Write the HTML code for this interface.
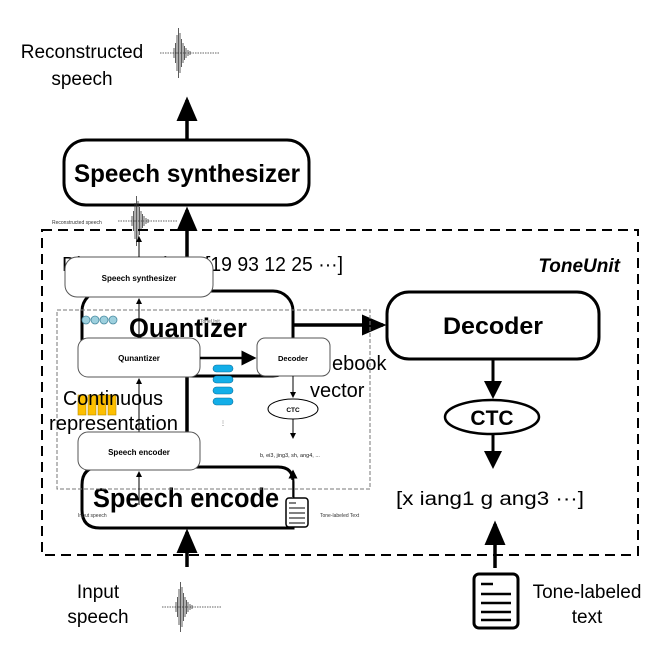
<!DOCTYPE html>
<html><head><meta charset="utf-8"><style>
html,body{margin:0;padding:0;background:#fff;}
svg{display:block;font-family:"Liberation Sans",sans-serif;}
</style></head><body>
<svg width="664" height="651" viewBox="0 0 664 651" xmlns="http://www.w3.org/2000/svg">
<defs>
<marker id="ah" markerWidth="6" markerHeight="6" refX="5" refY="3" orient="auto" markerUnits="strokeWidth"><path d="M0,0 L6,3 L0,6z" fill="#000"/></marker>
<marker id="ahs" markerWidth="7" markerHeight="7" refX="6" refY="3.5" orient="auto" markerUnits="strokeWidth"><path d="M0,0.5 L7,3.5 L0,6.5z" fill="#000"/></marker>
<g id="wave" stroke="#333" stroke-width="0.8">
<line x1="0" y1="0" x2="60" y2="0" stroke-dasharray="1.5,1"/>
<line x1="14" y1="-5" x2="14" y2="5"/><line x1="15.5" y1="-10" x2="15.5" y2="10"/><line x1="17" y1="-18" x2="17" y2="18"/><line x1="18.5" y1="-25" x2="18.5" y2="25"/><line x1="20" y1="-20" x2="20" y2="20"/><line x1="21.5" y1="-14" x2="21.5" y2="14"/><line x1="23" y1="-10" x2="23" y2="10"/><line x1="24.5" y1="-7" x2="24.5" y2="7"/><line x1="26" y1="-5" x2="26" y2="5"/><line x1="28" y1="-3" x2="28" y2="3"/><line x1="30" y1="-2" x2="30" y2="2"/>
</g>
</defs>

<text x="82" y="58" font-size="19" text-anchor="middle">Reconstructed</text>
<text x="82" y="85" font-size="19" text-anchor="middle">speech</text>
<use href="#wave" x="160" y="53"/>
<line x1="187" y1="140" x2="187" y2="100" stroke="#000" stroke-width="3.5" marker-end="url(#ahs)"/>
<rect x="64" y="140" width="245" height="65" rx="22" fill="#fff" stroke="#000" stroke-width="3"/>
<text x="187" y="182" font-size="25" font-weight="bold" text-anchor="middle" textLength="226" lengthAdjust="spacingAndGlyphs">Speech synthesizer</text>

<text x="52" y="224" font-size="5" fill="#333">Reconstructed speech</text>
<use href="#wave" x="118" y="221"/>

<rect x="42" y="230" width="596" height="325" fill="none" stroke="#000" stroke-width="2" stroke-dasharray="10,6"/>

<text x="62" y="271" font-size="20">Discrete units</text>
<text x="205" y="271" font-size="20" textLength="138" lengthAdjust="spacingAndGlyphs">[19 93 12 25 ···]</text>
<text x="620" y="272" font-size="19" font-weight="bold" font-style="italic" text-anchor="end">ToneUnit</text>
<line x1="187" y1="290" x2="187" y2="210" stroke="#000" stroke-width="3.5" marker-end="url(#ahs)"/>

<rect x="82" y="291" width="211" height="85" rx="20" fill="#fff" stroke="#000" stroke-width="3"/>
<text x="188" y="337" font-size="27" font-weight="bold" text-anchor="middle" textLength="118" lengthAdjust="spacingAndGlyphs">Quantizer</text>
<line x1="293" y1="325" x2="383" y2="325" stroke="#000" stroke-width="3.5" marker-end="url(#ahs)"/>

<rect x="387" y="292" width="212" height="67" rx="22" fill="#fff" stroke="#000" stroke-width="3"/>
<text x="493" y="334" font-size="24" font-weight="bold" text-anchor="middle" textLength="100" lengthAdjust="spacingAndGlyphs">Decoder</text>
<line x1="493" y1="359" x2="493" y2="396" stroke="#000" stroke-width="3" marker-end="url(#ah)"/>
<ellipse cx="492" cy="417" rx="47" ry="17" fill="#fff" stroke="#000" stroke-width="2.5"/>
<text x="492" y="425" font-size="21" font-weight="bold" text-anchor="middle">CTC</text>
<line x1="493" y1="434" x2="493" y2="466" stroke="#000" stroke-width="3" marker-end="url(#ah)"/>
<text x="396" y="505" font-size="19" textLength="188" lengthAdjust="spacingAndGlyphs">[x  iang1 g  ang3 ···]</text>

<text x="332" y="370" font-size="20">ebook</text>
<text x="310" y="397" font-size="20">vector</text>

<line x1="187" y1="376" x2="187" y2="470" stroke="#000" stroke-width="3.5"/>

<path d="M200,467 L278,467 Q293,467 293,482 L293,528 L100,528 Q82,528 82,510 L82,485 Q82,467 100,467 Z" fill="#fff" stroke="#000" stroke-width="3"/>
<text x="93" y="507" font-size="27" font-weight="bold" textLength="196" lengthAdjust="spacingAndGlyphs">Speech encoder</text>
<rect x="279" y="480" width="14" height="46" fill="#fff"/>
<line x1="187" y1="567" x2="187" y2="532" stroke="#000" stroke-width="3.5" marker-end="url(#ahs)"/>

<rect x="57" y="310" width="313" height="179" fill="none" stroke="#777" stroke-width="1" stroke-dasharray="4,2"/>
<text x="200" y="323" font-size="5" fill="#555">ToneUnit</text>
<rect x="65" y="257" width="148" height="40" rx="12" fill="#fff" stroke="#555" stroke-width="1"/>
<text x="139" y="281" font-size="8" font-weight="bold" text-anchor="middle">Speech synthesizer</text>
<line x1="139" y1="257" x2="139" y2="237" stroke="#000" stroke-width="1" marker-end="url(#ah)"/>
<line x1="139" y1="338" x2="139" y2="299" stroke="#000" stroke-width="1" marker-end="url(#ah)"/>
<g fill="#9dd0de" stroke="#4a8aa0" stroke-width="0.8"><circle cx="86" cy="320" r="4"/><circle cx="95" cy="320" r="4"/><circle cx="104" cy="320" r="4"/><circle cx="113" cy="320" r="4"/></g>
<rect x="78" y="338" width="122" height="39" rx="10" fill="#fff" stroke="#555" stroke-width="1"/>
<text x="139" y="361" font-size="8" font-weight="bold" text-anchor="middle">Qunantizer</text>
<line x1="200" y1="358" x2="254" y2="358" stroke="#000" stroke-width="2.5" marker-end="url(#ah)"/>
<rect x="257" y="338" width="73" height="38" rx="8" fill="#fff" stroke="#555" stroke-width="1"/>
<text x="293" y="361" font-size="7.5" font-weight="bold" text-anchor="middle">Decoder</text>
<line x1="293" y1="376" x2="293" y2="397" stroke="#000" stroke-width="1" marker-end="url(#ah)"/>
<ellipse cx="293" cy="409" rx="25" ry="10" fill="#fff" stroke="#000" stroke-width="1"/>
<text x="293" y="412" font-size="6.5" font-weight="bold" text-anchor="middle">CTC</text>
<line x1="293" y1="419" x2="293" y2="438" stroke="#000" stroke-width="1" marker-end="url(#ah)"/>
<text x="260" y="457" font-size="5.5" fill="#222">b, ei3, jing3, sh, ang4, ...</text>
<g fill="#13aee8" stroke="#0a6f9c" stroke-width="0.6"><rect x="213" y="365" width="20" height="7" rx="3.5"/><rect x="213" y="376" width="20" height="7" rx="3.5"/><rect x="213" y="387" width="20" height="7" rx="3.5"/><rect x="213" y="398" width="20" height="7" rx="3.5"/></g>
<text x="223" y="425" font-size="6" fill="#555" text-anchor="middle">⋮</text>
<g fill="#fdbf00" stroke="#b88a00" stroke-width="0.6"><rect x="78" y="395" width="8" height="20"/><rect x="88" y="395" width="8" height="20"/><rect x="98" y="395" width="8" height="20"/><rect x="108" y="395" width="8" height="20"/></g>
<text x="63" y="405" font-size="20" textLength="100" lengthAdjust="spacingAndGlyphs">Continuous</text>
<text x="49" y="430" font-size="20" textLength="129" lengthAdjust="spacingAndGlyphs">representation</text>
<line x1="139" y1="432" x2="139" y2="379" stroke="#000" stroke-width="1" marker-end="url(#ah)"/>
<rect x="78" y="432" width="122" height="38" rx="10" fill="#fff" stroke="#555" stroke-width="1"/>
<text x="139" y="455" font-size="8" font-weight="bold" text-anchor="middle">Speech encoder</text>
<line x1="139" y1="505" x2="139" y2="472" stroke="#000" stroke-width="1" marker-end="url(#ah)"/>
<text x="78" y="517" font-size="5" fill="#333">Input speech</text>
<text x="320" y="517" font-size="5" fill="#333">Tone-labeled Text</text>
<line x1="293" y1="497" x2="293" y2="471" stroke="#000" stroke-width="1.5" marker-end="url(#ah)"/>
<rect x="286" y="498" width="22" height="29" rx="3" fill="#fff" stroke="#000" stroke-width="1.5"/>
<g stroke="#000" stroke-width="1"><line x1="289" y1="503" x2="296" y2="503"/><line x1="289" y1="508" x2="305" y2="508"/><line x1="289" y1="513" x2="305" y2="513"/><line x1="289" y1="518" x2="305" y2="518"/><line x1="289" y1="523" x2="305" y2="523"/></g>

<text x="98" y="598" font-size="19" text-anchor="middle">Input</text>
<text x="98" y="623" font-size="19" text-anchor="middle">speech</text>
<use href="#wave" x="162" y="607"/>
<line x1="495" y1="568" x2="495" y2="524" stroke="#000" stroke-width="3.5" marker-end="url(#ahs)"/>
<rect x="474" y="574" width="44" height="54" rx="5" fill="#fff" stroke="#000" stroke-width="3"/>
<g stroke="#000" stroke-width="2.5"><line x1="481" y1="584" x2="493" y2="584"/><line x1="481" y1="594" x2="511" y2="594"/><line x1="481" y1="603" x2="511" y2="603"/><line x1="481" y1="612" x2="511" y2="612"/><line x1="481" y1="620" x2="511" y2="620"/></g>
<text x="587" y="598" font-size="19" text-anchor="middle">Tone-labeled</text>
<text x="587" y="623" font-size="19" text-anchor="middle">text</text>
</svg>
</body></html>
